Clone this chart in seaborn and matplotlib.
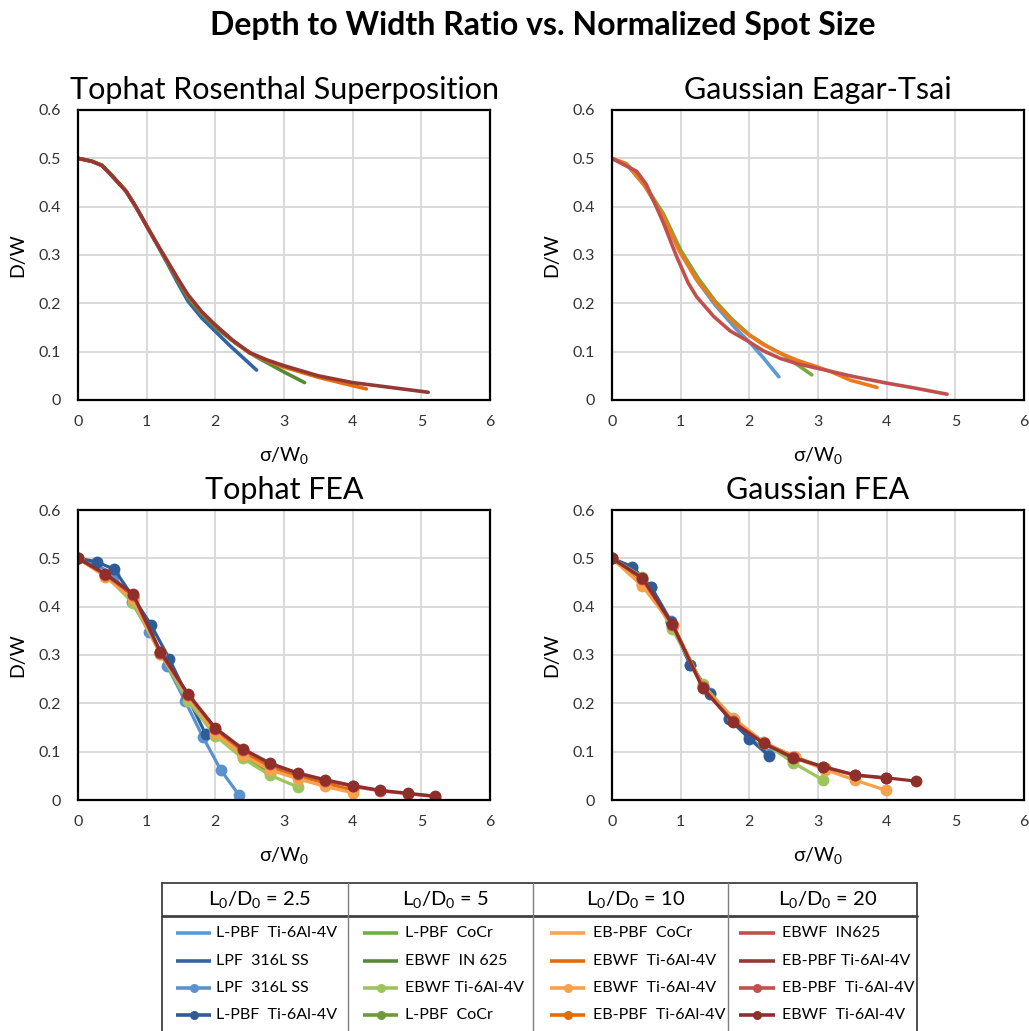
import numpy as np
import pandas as pd
import matplotlib
matplotlib.use("Agg")
import matplotlib.pyplot as plt
import seaborn as sns

# ---------------- data ----------------
# Tophat Rosenthal superposition (analytic curves)
tr_blue_x = [0, 0.2, 0.35, 0.5, 0.7, 0.85, 1.0, 1.15, 1.3, 1.45, 1.6, 1.8, 2.0, 2.2, 2.4, 2.6]
tr_blue_y = [0.5, 0.494, 0.485, 0.463, 0.432, 0.398, 0.36, 0.322, 0.283, 0.243, 0.205, 0.17, 0.142, 0.114, 0.088, 0.062]
tr_green_x = [0, 0.2, 0.35, 0.5, 0.7, 0.85, 1.0, 1.15, 1.3, 1.45, 1.6, 1.8, 2.0, 2.3, 2.6, 3.0, 3.3]
tr_green_y = [0.5, 0.494, 0.486, 0.464, 0.432, 0.398, 0.36, 0.323, 0.285, 0.248, 0.212, 0.178, 0.15, 0.117, 0.089, 0.058, 0.036]
tr_orange_x = [0, 0.2, 0.35, 0.5, 0.7, 0.85, 1.0, 1.15, 1.3, 1.45, 1.6, 1.8, 2.0, 2.25, 2.5, 2.75, 3.0, 3.5, 3.9, 4.2]
tr_orange_y = [0.5, 0.494, 0.485, 0.463, 0.432, 0.398, 0.36, 0.323, 0.287, 0.251, 0.216, 0.182, 0.155, 0.123, 0.097, 0.081, 0.068, 0.047, 0.033, 0.023]
tr_red_x = [0, 0.2, 0.35, 0.5, 0.7, 0.85, 1.0, 1.15, 1.3, 1.45, 1.6, 1.8, 2.0, 2.25, 2.5, 2.75, 3.0, 3.5, 4.0, 4.5, 5.1]
tr_red_y = [0.5, 0.494, 0.485, 0.463, 0.432, 0.398, 0.36, 0.323, 0.288, 0.252, 0.218, 0.183, 0.155, 0.124, 0.098, 0.083, 0.071, 0.05, 0.036, 0.027, 0.016]

# Gaussian Eagar-Tsai (analytic curves)
ge_blue_x = [0, 0.25, 0.5, 0.75, 1.0, 1.25, 1.5, 1.8, 2.0, 2.2, 2.43]
ge_blue_y = [0.5, 0.482, 0.44, 0.375, 0.305, 0.245, 0.197, 0.148, 0.12, 0.088, 0.048]
ge_green_x = [0, 0.25, 0.5, 0.75, 1.0, 1.25, 1.5, 1.75, 2.0, 2.25, 2.5, 2.75, 2.91]
ge_green_y = [0.5, 0.482, 0.44, 0.385, 0.31, 0.253, 0.205, 0.167, 0.135, 0.112, 0.093, 0.068, 0.052]
ge_orange_x = [0, 0.21, 0.46, 0.75, 0.97, 1.23, 1.53, 1.75, 1.99, 2.2, 2.45, 2.7, 2.98, 3.2, 3.47, 3.86]
ge_orange_y = [0.5, 0.489, 0.446, 0.38, 0.311, 0.249, 0.197, 0.163, 0.135, 0.115, 0.097, 0.082, 0.069, 0.058, 0.041, 0.026]
ge_red_x = [0, 0.36, 0.5, 0.75, 0.94, 1.11, 1.23, 1.48, 1.72, 1.99, 2.2, 2.45, 2.7, 2.98, 3.5, 4.0, 4.4, 4.88]
ge_red_y = [0.5, 0.473, 0.446, 0.366, 0.297, 0.242, 0.214, 0.173, 0.143, 0.121, 0.102, 0.086, 0.075, 0.066, 0.049, 0.035, 0.025, 0.012]

# Tophat FEA (simulation points)
tf_blue_lt_x = [0, 0.26, 0.52, 0.78, 1.04, 1.30, 1.56, 1.82, 2.08, 2.34]
tf_blue_lt_y = [0.5, 0.488, 0.465, 0.41, 0.348, 0.277, 0.205, 0.13, 0.062, 0.011]
tf_blue_dk_x = [0, 0.27, 0.53, 0.80, 1.06, 1.33, 1.59, 1.86]
tf_blue_dk_y = [0.5, 0.493, 0.477, 0.42, 0.363, 0.292, 0.215, 0.136]
tf_green_lt_x = [0, 0.4, 0.8, 1.2, 1.6, 2.0, 2.4, 2.8, 3.2]
tf_green_lt_y = [0.5, 0.465, 0.408, 0.303, 0.205, 0.133, 0.086, 0.051, 0.027]
tf_green_dk_x = [0, 0.4, 0.8, 1.2, 1.6, 2.0, 2.4, 2.8]
tf_green_dk_y = [0.5, 0.466, 0.412, 0.305, 0.21, 0.137, 0.09, 0.055]
tf_orange_lt_x = [0, 0.4, 0.8, 1.2, 1.6, 2.0, 2.4, 2.8, 3.2, 3.6, 4.0]
tf_orange_lt_y = [0.5, 0.462, 0.415, 0.303, 0.215, 0.138, 0.093, 0.062, 0.044, 0.028, 0.015]
tf_orange_dk_x = [0, 0.4, 0.8, 1.2, 1.6, 2.0, 2.4, 2.8, 3.2, 3.6, 4.0]
tf_orange_dk_y = [0.5, 0.464, 0.418, 0.306, 0.218, 0.142, 0.098, 0.068, 0.05, 0.035, 0.02]
tf_red_lt_x = [0, 0.4, 0.8, 1.2, 1.6, 2.0, 2.4, 2.8, 3.2, 3.6, 4.0, 4.4, 4.8, 5.2]
tf_red_lt_y = [0.5, 0.466, 0.424, 0.305, 0.218, 0.147, 0.104, 0.074, 0.054, 0.04, 0.028, 0.019, 0.013, 0.007]
tf_red_dk_x = [0, 0.4, 0.8, 1.2, 1.6, 2.0, 2.4, 2.8, 3.2, 3.6, 4.0, 4.4, 4.8, 5.2]
tf_red_dk_y = [0.5, 0.468, 0.427, 0.307, 0.22, 0.149, 0.106, 0.076, 0.056, 0.042, 0.030, 0.020, 0.014, 0.008]

# Gaussian FEA (simulation points)
gf_blue_lt_x = [0, 0.29, 0.57, 0.86, 1.14, 1.43, 1.71, 2.0, 2.29]
gf_blue_lt_y = [0.5, 0.48, 0.44, 0.37, 0.28, 0.222, 0.17, 0.13, 0.095]
gf_blue_dk_x = [0, 0.29, 0.57, 0.86, 1.14, 1.43, 1.71, 2.0, 2.29]
gf_blue_dk_y = [0.5, 0.483, 0.441, 0.368, 0.279, 0.219, 0.167, 0.127, 0.091]
gf_green_lt_x = [0, 0.44, 0.88, 1.32, 1.76, 2.2, 2.64, 3.08]
gf_green_lt_y = [0.5, 0.462, 0.353, 0.239, 0.17, 0.12, 0.077, 0.041]
gf_green_dk_x = [0, 0.44, 0.88, 1.32, 1.76, 2.2, 2.64]
gf_green_dk_y = [0.5, 0.458, 0.357, 0.236, 0.165, 0.118, 0.08]
gf_orange_lt_x = [0, 0.44, 0.89, 1.33, 1.77, 2.21, 2.66, 3.1, 3.54, 3.99]
gf_orange_lt_y = [0.5, 0.443, 0.36, 0.232, 0.168, 0.12, 0.088, 0.063, 0.041, 0.02]
gf_orange_dk_x = [0, 0.44, 0.89, 1.33, 1.77, 2.21, 2.66, 3.1]
gf_orange_dk_y = [0.5, 0.446, 0.362, 0.234, 0.166, 0.118, 0.09, 0.066]
gf_red_lt_x = [0, 0.44, 0.88, 1.32, 1.76, 2.21, 2.64, 3.08, 3.54, 3.99]
gf_red_lt_y = [0.5, 0.458, 0.362, 0.233, 0.163, 0.118, 0.088, 0.068, 0.051, 0.045]
gf_red_dk_x = [0, 0.44, 0.88, 1.32, 1.76, 2.21, 2.64, 3.08, 3.54, 3.99, 4.43]
gf_red_dk_y = [0.5, 0.46, 0.364, 0.231, 0.161, 0.117, 0.087, 0.069, 0.052, 0.046, 0.039]

# legend table contents
group_titles = ["L$\\mathregular{_0}$/D$\\mathregular{_0}$ = 2.5",
                "L$\\mathregular{_0}$/D$\\mathregular{_0}$ = 5",
                "L$\\mathregular{_0}$/D$\\mathregular{_0}$ = 10",
                "L$\\mathregular{_0}$/D$\\mathregular{_0}$ = 20"]
group_labels = [
    ["L-PBF  Ti-6Al-4V", "LPF  316L SS", "LPF  316L SS", "L-PBF  Ti-6Al-4V"],
    ["L-PBF  CoCr", "EBWF  IN 625", "EBWF Ti-6Al-4V", "L-PBF  CoCr"],
    ["EB-PBF  CoCr", "EBWF  Ti-6Al-4V", "EBWF  Ti-6Al-4V", "EB-PBF  Ti-6Al-4V"],
    ["EBWF  IN625", "EB-PBF Ti-6Al-4V", "EB-PBF  Ti-6Al-4V", "EBWF  Ti-6Al-4V"],
]
# colours per group: [line light, line dark, marker light, marker dark]
group_colors = [
    ["#5B9BD5", "#3563A3", "#5A92D0", "#2F5B96"],
    ["#70AD47", "#568A36", "#9DC55E", "#6E9A3A"],
    ["#F8A25A", "#E46C0A", "#F9A04A", "#E36C0A"],
    ["#C0504D", "#953735", "#C4504D", "#8E2F2C"],
]

# ---------------- style ----------------
sns.set_theme(style="whitegrid")
plt.rcParams["font.family"] = ["Lato", "DejaVu Sans"]
plt.rcParams["mathtext.fontset"] = "custom"
plt.rcParams["mathtext.rm"] = "Lato"

W, H = 1029, 1031
fig = plt.figure(figsize=(W / 100, H / 100), dpi=100)
fig.patch.set_facecolor("white")


def px_axes(left, top, right, bottom):
    return fig.add_axes([left / W, 1 - bottom / H, (right - left) / W, (bottom - top) / H])


def style_axes(ax, title):
    ax.set_xlim(0, 6)
    ax.set_ylim(0, 0.6)
    ax.set_xticks(range(7))
    ax.set_yticks([0, 0.1, 0.2, 0.3, 0.4, 0.5, 0.6])
    ax.set_xticklabels([f"{v:g}" for v in range(7)])
    ax.set_yticklabels(["0", "0.1", "0.2", "0.3", "0.4", "0.5", "0.6"])
    ax.set_facecolor("white")
    ax.grid(True, color="#D9D9D9", linewidth=1.4)
    ax.set_axisbelow(True)
    for s in ax.spines.values():
        s.set_visible(True)
        s.set_color("black")
        s.set_linewidth(1.6)
    ax.tick_params(axis="both", length=0, labelsize=11.5, colors="#333333")
    ax.tick_params(axis="x", pad=11)
    ax.tick_params(axis="y", pad=12)
    ax.set_xlabel("σ/W$\\mathregular{_0}$", fontsize=14, color="black")
    ax.xaxis.set_label_coords(0.5, -56 / 290)
    ax.xaxis.label.set_va("center")
    ax.set_ylabel("D/W", fontsize=14, color="black")
    ax.yaxis.set_label_coords(-60 / 412, 0.5)
    ax.yaxis.label.set_va("center")
    ax.set_title(title, fontsize=22, y=1 + 20 / 290, pad=0, va="center", color="black")


def draw(ax, xs, ys, color, markers=False):
    df = pd.DataFrame({"x": xs, "y": ys})
    kw = dict(linewidth=2.6, solid_joinstyle="round")
    if markers:
        kw = dict(linewidth=2.3, marker="o", markersize=8.5, markeredgewidth=0)
    sns.lineplot(data=df, x="x", y="y", ax=ax, color=color, sort=False,
                 estimator=None, legend=False, **kw)


ax_tr = px_axes(78, 110, 490, 400)
ax_ge = px_axes(612, 110, 1024, 400)
ax_tf = px_axes(78, 510, 490, 800)
ax_gf = px_axes(612, 510, 1024, 800)

# analytic curves
draw(ax_tr, tr_blue_x, tr_blue_y, group_colors[0][1])
draw(ax_tr, tr_green_x, tr_green_y, group_colors[1][1])
draw(ax_tr, tr_orange_x, tr_orange_y, group_colors[2][1])
draw(ax_tr, tr_red_x, tr_red_y, group_colors[3][1])

draw(ax_ge, ge_blue_x, ge_blue_y, group_colors[0][0])
draw(ax_ge, ge_green_x, ge_green_y, "#78A83E")
draw(ax_ge, ge_orange_x, ge_orange_y, "#EC7A1C")
draw(ax_ge, ge_red_x, ge_red_y, group_colors[3][0])

# FEA points
for xs, ys, c in [
    (tf_blue_lt_x, tf_blue_lt_y, group_colors[0][2]),
    (tf_blue_dk_x, tf_blue_dk_y, group_colors[0][3]),
    (tf_green_dk_x, tf_green_dk_y, group_colors[1][3]),
    (tf_green_lt_x, tf_green_lt_y, group_colors[1][2]),
    (tf_orange_dk_x, tf_orange_dk_y, group_colors[2][3]),
    (tf_orange_lt_x, tf_orange_lt_y, group_colors[2][2]),
    (tf_red_lt_x, tf_red_lt_y, group_colors[3][2]),
    (tf_red_dk_x, tf_red_dk_y, group_colors[3][3]),
]:
    draw(ax_tf, xs, ys, c, markers=True)

for xs, ys, c in [
    (gf_blue_lt_x, gf_blue_lt_y, group_colors[0][2]),
    (gf_blue_dk_x, gf_blue_dk_y, group_colors[0][3]),
    (gf_green_dk_x, gf_green_dk_y, group_colors[1][3]),
    (gf_green_lt_x, gf_green_lt_y, group_colors[1][2]),
    (gf_orange_dk_x, gf_orange_dk_y, group_colors[2][3]),
    (gf_orange_lt_x, gf_orange_lt_y, group_colors[2][2]),
    (gf_red_lt_x, gf_red_lt_y, group_colors[3][2]),
    (gf_red_dk_x, gf_red_dk_y, group_colors[3][3]),
]:
    draw(ax_gf, xs, ys, c, markers=True)

style_axes(ax_tr, "Tophat Rosenthal Superposition")
style_axes(ax_ge, "Gaussian Eagar-Tsai")
style_axes(ax_tf, "Tophat FEA")
style_axes(ax_gf, "Gaussian FEA")

fig.text(543 / W, 1 - 25 / H, "Depth to Width Ratio vs. Normalized Spot Size",
         ha="center", va="center", fontsize=23, fontweight="bold", color="black")

# ---------------- legend table ----------------
lax = fig.add_axes([0, 0, 1, 1], facecolor="none")
lax.set_xlim(0, W)
lax.set_ylim(H, 0)
lax.axis("off")

col_edges = [162, 348, 533, 728, 917]
top, head_bottom = 883, 916
row_y = [933, 961, 988, 1015]
line_off = [(14, 49), (15, 50), (17, 52), (11, 47)]
text_off = [54, 57, 60, 54]
edge_c = "#404040"

lax.plot([col_edges[0], col_edges[-1]], [top, top], color=edge_c, lw=1.3)
lax.plot([col_edges[0], col_edges[-1]], [head_bottom, head_bottom], color=edge_c, lw=2.0)
lax.plot([col_edges[0], col_edges[0]], [top, H + 2], color=edge_c, lw=1.3, clip_on=False)
lax.plot([col_edges[-1], col_edges[-1]], [top, H + 2], color=edge_c, lw=1.3, clip_on=False)
for xe in col_edges[1:-1]:
    lax.plot([xe, xe], [top, H + 2], color="#7F7F7F", lw=1.0, clip_on=False)

for g in range(4):
    x0 = col_edges[g]
    lax.text((x0 + col_edges[g + 1]) / 2 + 5, (top + head_bottom) / 2, group_titles[g],
             ha="center", va="center", fontsize=14.5, color="black")
    for r in range(4):
        a, b = line_off[g]
        c = group_colors[g][r]
        lax.plot([x0 + a, x0 + b], [row_y[r], row_y[r]], color=c, lw=2.6,
                 solid_capstyle="butt")
        if r >= 2:
            lax.plot([x0 + (a + b) / 2], [row_y[r]], "o", color=c, ms=6.5, mew=0)
        lax.text(x0 + text_off[g], row_y[r], group_labels[g][r], ha="left", va="center",
                 fontsize=11.5, color="black")

fig.savefig("out.png", dpi=100, facecolor="white")
